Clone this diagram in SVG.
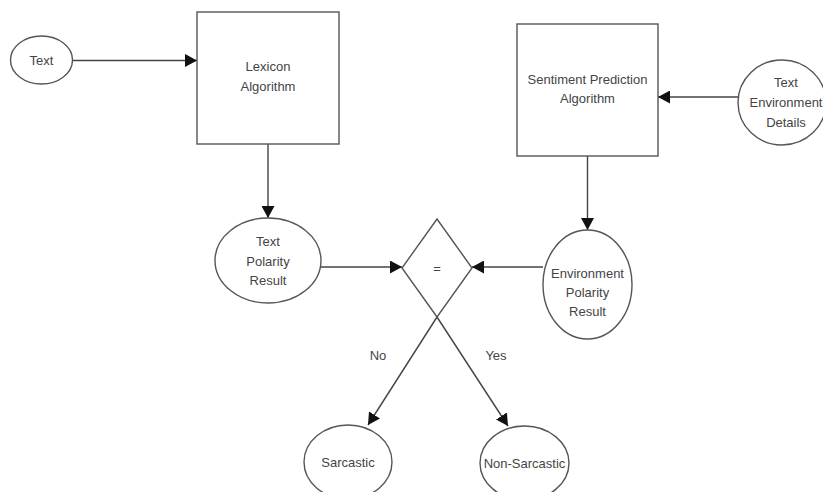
<svg xmlns="http://www.w3.org/2000/svg" width="823" height="492" viewBox="0 0 823 492">
<style>
.s{fill:#fff;stroke:#555;stroke-width:1.4}
.t{font-family:"Liberation Sans",Arial,sans-serif;font-size:13px;fill:#444;text-anchor:middle}
.c{fill:none;stroke:#444;stroke-width:1.4}
</style>
<defs>
<marker id="a" viewBox="0 0 12 13" refX="12" refY="6.5" markerWidth="12" markerHeight="13" markerUnits="userSpaceOnUse" orient="auto">
<path d="M0,0 L12,6.5 L0,13 Z" fill="#111"/>
</marker>
</defs>
<rect width="823" height="492" fill="#fff"/>
<g id="connectors">
<line class="c" x1="73" y1="60.5" x2="197" y2="60.5" marker-end="url(#a)"/>
<line class="c" x1="738" y1="97" x2="658" y2="97" marker-end="url(#a)"/>
<line class="c" x1="268" y1="144" x2="268" y2="218" marker-end="url(#a)"/>
<line class="c" x1="587.5" y1="156" x2="587.5" y2="230" marker-end="url(#a)"/>
<line class="c" x1="321" y1="267" x2="402" y2="267" marker-end="url(#a)"/>
<line class="c" x1="543" y1="267" x2="472" y2="267" marker-end="url(#a)"/>
<line class="c" x1="437" y1="317" x2="368" y2="425" marker-end="url(#a)"/>
<line class="c" x1="437" y1="317" x2="508" y2="426" marker-end="url(#a)"/>
<text class="t" x="378" y="360">No</text>
<text class="t" x="496" y="360">Yes</text>
</g>
<g id="text">
<ellipse class="s" cx="41.5" cy="60" rx="31" ry="24"/>
<text class="t" x="41.5" y="64.5">Text</text>
</g>
<g id="lexicon">
<rect class="s" x="197" y="12" width="142" height="132"/>
<text class="t" x="268" y="71">Lexicon</text>
<text class="t" x="268" y="91">Algorithm</text>
</g>
<g id="sentiment">
<rect class="s" x="517" y="24" width="141" height="132"/>
<text class="t" x="587.5" y="84">Sentiment Prediction</text>
<text class="t" x="587.5" y="103">Algorithm</text>
</g>
<g id="env-details">
<ellipse class="s" cx="782" cy="102.5" rx="44" ry="42.5"/>
<text class="t" x="786" y="87">Text</text>
<text class="t" x="786" y="107">Environment</text>
<text class="t" x="786" y="127">Details</text>
</g>
<g id="text-polarity">
<ellipse class="s" cx="268" cy="260.5" rx="53" ry="42.5"/>
<text class="t" x="268" y="246">Text</text>
<text class="t" x="268" y="266">Polarity</text>
<text class="t" x="268" y="285">Result</text>
</g>
<g id="decision">
<polygon class="s" points="437,219 472,268 437,317 402,268"/>
<text class="t" x="437" y="273">=</text>
</g>
<g id="env-polarity">
<ellipse class="s" cx="587.5" cy="284.5" rx="44.5" ry="54.5"/>
<text class="t" x="587.5" y="278">Environment</text>
<text class="t" x="587.5" y="297">Polarity</text>
<text class="t" x="587.5" y="316">Result</text>
</g>
<g id="sarcastic">
<ellipse class="s" cx="348" cy="462" rx="44" ry="37"/>
<text class="t" x="348" y="466.5">Sarcastic</text>
</g>
<g id="non-sarcastic">
<ellipse class="s" cx="524.5" cy="463" rx="44.5" ry="37"/>
<text class="t" x="524.5" y="467.5">Non-Sarcastic</text>
</g>
</svg>
